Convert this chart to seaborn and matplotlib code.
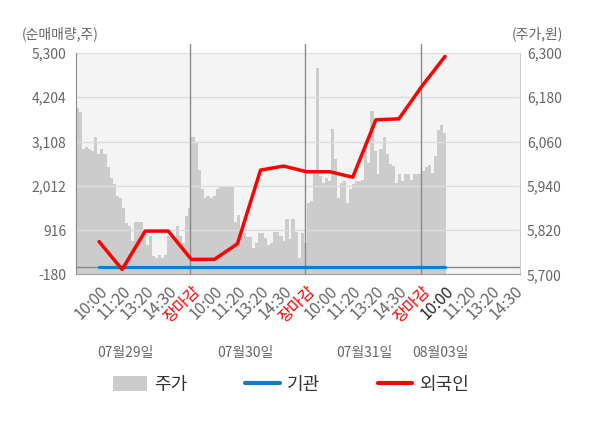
import numpy as np
import pandas as pd
import matplotlib
matplotlib.use("Agg")
import matplotlib.pyplot as plt
import matplotlib.transforms as mtransforms
from matplotlib.patches import Patch
from matplotlib.lines import Line2D
import seaborn as sns

# ---------------- data ----------------
time_labels = ['10:00', '11:20', '13:20', '14:30', '장마감',
               '10:00', '11:20', '13:20', '14:30', '장마감',
               '10:00', '11:20', '13:20', '14:30', '장마감',
               '10:00', '11:20', '13:20', '14:30']
date_labels = ['07월29일', '07월30일', '07월31일', '08월03일']

foreign = [630, -60, 890, 890, 190, 190, 575, 2400, 2500, 2360,
           2360, 2225, 3645, 3670, 4480, 5215]
institution = [0, 0, 0, 0, 0, 0, 0, 0, 0, 0, 0, 0, 0, 0, 0, 0]

price_day1 = [6150, 6140, 6040, 6044, 6039, 6034, 6071, 6025, 6039, 6025,
              5990, 5962, 5945, 5912, 5907, 5880, 5840, 5830, 5790, 5842,
              5842, 5842, 5812, 5780, 5803, 5750, 5745, 5753, 5745, 5753,
              5803, 5812, 5794, 5830, 5803, 5785, 5857, 5880]
price_day2 = [6071, 6057, 5984, 5932, 5907, 5912, 5907, 5912, 5930, 5937,
              5937, 5937, 5937, 5937, 5843, 5862, 5803, 5812, 5801, 5801,
              5771, 5785, 5812, 5812, 5798, 5780, 5785, 5816, 5816, 5803,
              5789, 5851, 5795, 5851, 5816, 5744, 5812, 5785]
price_day3 = [5894, 5900, 5980, 6260, 5966, 5948, 5962, 5953, 6093, 6012,
              5907, 5948, 5953, 5894, 5930, 5944, 5953, 5953, 5957, 6057,
              6003, 6143, 6034, 5971, 6039, 6071, 6025, 5998, 5993, 5948,
              5971, 5953, 5971, 5971, 5957, 5971, 5971, 5971]
price_day4 = [5980, 5990, 5995, 5975, 6020, 6090, 6105, 6084]

left_ticks = [-180, 916, 2012, 3108, 4204, 5300]
right_ticks = [5700, 5820, 5940, 6060, 6180, 6300]

# ---------------- style ----------------
sns.set_style("white")
plt.rcParams['font.family'] = ['Noto Sans CJK KR', 'DejaVu Sans']

RED = '#ff0000'
BLUE = '#0f7dc8'
GRAY_BAR = '#cccccc'
TXT = '#666666'

fig = plt.figure(figsize=(6.0, 4.28), dpi=100)
ax = fig.add_axes([76/600, 1-274.3/428, 444/600, 221.3/428])
ax2 = ax.twinx()

# price bars on right axis (behind)
ax.set_zorder(ax2.get_zorder() + 1)
ax.patch.set_visible(False)
ax2.patch.set_visible(True)
ax2.set_facecolor('#f4f4f4')

w = 5/38
for d, pdata in enumerate([price_day1, price_day2, price_day3, price_day4]):
    start = 5*d - 1
    xs = start + np.arange(len(pdata))*w
    vals = np.array(pdata) - 5700
    ax2.bar(xs, vals, width=w*1.05, bottom=5700, align='edge',
            color=GRAY_BAR, edgecolor='none', linewidth=0)
ax2.set_ylim(5700, 6300)
ax2.set_yticks(right_ticks)
ax2.set_yticklabels([f'{v:,}' for v in right_ticks])

# lines on left axis
df = pd.DataFrame({'k': np.arange(len(foreign)), 'foreign': foreign,
                   'inst': institution})
ax.axhline(0, color='#888888', lw=1, zorder=1)
sns.lineplot(data=df, x='k', y='inst', ax=ax, color=BLUE, lw=2.3, zorder=3)
sns.lineplot(data=df, x='k', y='foreign', ax=ax, color=RED, lw=2.5, zorder=4)

ax.set_xlim(-1, 18.25)
ax.set_ylim(-180, 5300)
ax.set_yticks(left_ticks)
ax.set_yticklabels([f'{v:,}' for v in left_ticks])
ax.yaxis.grid(True, color='#dddddd', lw=1)
ax.set_axisbelow(True)
ax.set_xlabel('')
ax.set_ylabel('')

# day separators
for xv in [3.95, 8.95, 13.95]:
    ax.axvline(xv, ymin=0, ymax=1.04, color='#888888', lw=1, clip_on=False, zorder=2)

ax.set_xticks(range(len(time_labels)))
ax.set_xticklabels(time_labels, rotation=45, ha='right', rotation_mode='anchor')
for i, lab in enumerate(ax.get_xticklabels()):
    if time_labels[i] == '장마감':
        lab.set_color(RED)
    elif i == 15:
        lab.set_color('#222222')
    else:
        lab.set_color(TXT)

ax.tick_params(axis='x', length=0, pad=6, labelsize=11.5)
ax.tick_params(axis='y', length=0, pad=7, labelsize=10, colors=TXT)
ax2.tick_params(axis='y', length=0, pad=5, labelsize=10, colors=TXT)

for a in (ax, ax2):
    a.spines['top'].set_visible(False)
ax.spines['left'].set_color('#888888')
ax.spines['bottom'].set_color('#999999')
ax.spines['right'].set_visible(False)
ax2.spines['left'].set_visible(False)
ax2.spines['bottom'].set_visible(False)
ax2.spines['right'].set_color('#cccccc')

fig.text(22/600, 1-34/428, '(순매매량,주)', ha='left', va='center', fontsize=10, color=TXT)
fig.text(563/600, 1-34/428, '(주가,원)', ha='right', va='center', fontsize=10, color=TXT)

trans = mtransforms.blended_transform_factory(ax.transData, ax.transAxes)
date_pos = [1.15, 6.35, 11.5, 14.8]
for xp, dl in zip(date_pos, date_labels):
    ax.text(xp, -0.357, dl, transform=trans, ha='center', va='center',
            fontsize=10, color=TXT)

handles = [Patch(facecolor=GRAY_BAR, edgecolor='none'),
           Line2D([0], [0], color=BLUE, lw=3),
           Line2D([0], [0], color=RED, lw=3)]
fig.legend(handles, ['주가', '기관', '외국인'], loc='center',
           bbox_to_anchor=(0.485, 1-385/428), ncol=3, frameon=False,
           fontsize=13, handlelength=1.9, handleheight=0.9,
           handletextpad=0.4, columnspacing=3.2, labelcolor='#333333')

fig.savefig('out.png', dpi=100)
